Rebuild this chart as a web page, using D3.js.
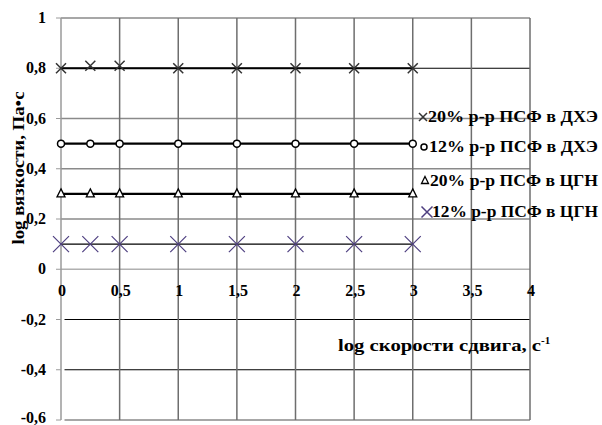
<!DOCTYPE html>
<html>
<head>
<meta charset="utf-8">
<script src="https://cdn.jsdelivr.net/npm/d3@7"></script>
<style>
  body { margin: 0; background: #fff; }
  text { font-family: "Liberation Serif", "DejaVu Serif", serif; font-weight: bold; fill: #000; }
</style>
</head>
<body>
<div id="chart"></div>
<script>
// data
const shearLog = [0, 0.25, 0.5, 1, 1.5, 2, 2.5, 3];
const visc20DCE = [0.8, 0.81, 0.81, 0.8, 0.8, 0.8, 0.8, 0.8];
const visc12DCE = [0.5, 0.5, 0.5, 0.5, 0.5, 0.5, 0.5, 0.5];
const visc20CHN = [0.3, 0.3, 0.3, 0.3, 0.3, 0.3, 0.3, 0.3];
const visc12CHN = [0.1, 0.1, 0.1, 0.1, 0.1, 0.1, 0.1, 0.1];
const seriesNames = ['20% р-р ПСФ в ДХЭ', '12% р-р ПСФ в ДХЭ', '20% р-р ПСФ в ЦГН', '12% р-р ПСФ в ЦГН'];
const xTicks = [0, 0.5, 1, 1.5, 2, 2.5, 3, 3.5, 4];
const yTicks = [1, 0.8, 0.6, 0.4, 0.2, 0, -0.2, -0.4, -0.6];

const W = 602, H = 425;
const svg = d3.select('#chart').append('svg')
    .attr('width', W)
    .attr('height', H);

const x = d3.scaleLinear().domain([0, 4]).range([61, 530]);
const y = d3.scaleLinear().domain([-0.6, 1]).range([420, 18]);
const fmt = v => String(v).replace('.', ',');

// horizontal grid
const darkRows = [0.8, -0.2, -0.4];
svg.selectAll('.hgrid')
    .data(yTicks)
    .enter().append('line')
    .attr('x1', d => d < 0 ? x(0.03) : x(0))
    .attr('x2', x(4))
    .attr('y1', d => y(d))
    .attr('y2', d => y(d))
    .attr('stroke', d => d === 0 ? '#b0b0b0' : (darkRows.includes(d) ? '#000' : '#8a8a8a'))
    .attr('stroke-width', d => darkRows.includes(d) ? 1.2 : 1.3);

// vertical grid
svg.selectAll('.vgrid')
    .data(xTicks)
    .enter().append('line')
    .attr('x1', d => x(d))
    .attr('x2', d => x(d))
    .attr('y1', y(1))
    .attr('y2', y(-0.6))
    .attr('stroke', d => d === 0 ? '#9a9a9a' : '#6e6e6e')
    .attr('stroke-width', 1.5);

// left ticks
svg.selectAll('.ytick')
    .data(yTicks)
    .enter().append('line')
    .attr('x1', x(0) - 5)
    .attr('x2', x(0))
    .attr('y1', d => y(d))
    .attr('y2', d => y(d))
    .attr('stroke', '#9a9a9a');

// y tick labels
svg.selectAll('.ylab')
    .data(yTicks)
    .enter().append('text')
    .attr('x', 46)
    .attr('y', d => y(d) + (d === -0.6 ? 3 : 5))
    .attr('text-anchor', 'end')
    .style('font-size', '16px')
    .text(d => d < 0 ? '-' + fmt(-d) : fmt(d));

// x tick labels (sit below the zero line)
svg.selectAll('.xlab')
    .data(xTicks)
    .enter().append('text')
    .attr('x', d => x(d) + 1)
    .attr('y', y(0) + 27)
    .attr('text-anchor', 'middle')
    .style('font-size', '16px')
    .text(d => fmt(d));

// axis titles
svg.append('text')
    .attr('transform', `translate(24, ${168}) rotate(-90)`)
    .attr('text-anchor', 'middle')
    .style('font-size', '16px')
    .attr('textLength', 153)
    .attr('lengthAdjust', 'spacingAndGlyphs')
    .text('log вязкости, Па•с');

const xt = svg.append('text')
    .attr('x', 338)
    .attr('y', 351)
    .style('font-size', '17px');
xt.append('tspan').attr('textLength', 203).attr('lengthAdjust', 'spacingAndGlyphs').text('log скорости сдвига, с');
xt.append('tspan').attr('dy', -7).style('font-size', '11px').text('-1');

// series lines
const lineGen = d3.line().x(d => x(d[0])).y(d => y(d[1]));
const series = [
  { vals: visc20DCE, width: 2.2, mark: 'x', color: '#333', size: 5 },
  { vals: visc12DCE, width: 2.2, mark: 'o', color: '#000', size: 3.5 },
  { vals: visc20CHN, width: 2.2, mark: 't', color: '#000', size: 4 },
  { vals: visc12CHN, width: 1.2, mark: 'x', color: '#4e3f80', size: 8 }
];

// flat trend lines
series.forEach(s => {
  const m = d3.median(s.vals);
  svg.append('path')
      .attr('d', lineGen([[shearLog[0], m], [shearLog[shearLog.length - 1], m]]))
      .attr('fill', 'none')
      .attr('stroke', '#000')
      .attr('stroke-width', s.width);
});

function drawMark(g, s, cx, cy) {
  const r = s.size;
  if (s.mark === 'x') {
    g.append('path')
        .attr('d', `M${cx - r},${cy - r}L${cx + r},${cy + r}M${cx - r},${cy + r}L${cx + r},${cy - r}`)
        .attr('stroke', s.color)
        .attr('stroke-width', s.size > 6 ? 1.2 : 1.5)
        .attr('fill', 'none');
  } else if (s.mark === 'o') {
    g.append('circle')
        .attr('cx', cx).attr('cy', cy).attr('r', r)
        .attr('fill', '#fff')
        .attr('stroke', s.color)
        .attr('stroke-width', 1.5);
  } else {
    g.append('path')
        .attr('d', `M${cx},${cy - r - 1}L${cx + r},${cy + r - 1}L${cx - r},${cy + r - 1}Z`)
        .attr('fill', '#fff')
        .attr('stroke', s.color)
        .attr('stroke-width', 1.3);
  }
}

series.forEach(s => {
  const g = svg.append('g');
  shearLog.forEach((v, i) => drawMark(g, s, x(v), y(s.vals[i])));
});

// legend
const legendY = [117, 147, 181, 212];
const legendX = [428, 429, 430, 432];
series.forEach((s, i) => {
  const g = svg.append('g');
  const ms = Object.assign({}, s, { size: s.mark === 'x' ? (s.size > 6 ? 5.5 : 4) : (s.mark === 'o' ? 3 : 3.5) });
  drawMark(g, ms, legendX[i] - 5, legendY[i]);
  g.append('text')
      .attr('x', legendX[i])
      .attr('y', legendY[i] + 5)
      .style('font-size', '16px')
      .attr('textLength', 598 - legendX[i])
      .attr('lengthAdjust', 'spacingAndGlyphs')
      .text(seriesNames[i]);
});
</script>
</body>
</html>
